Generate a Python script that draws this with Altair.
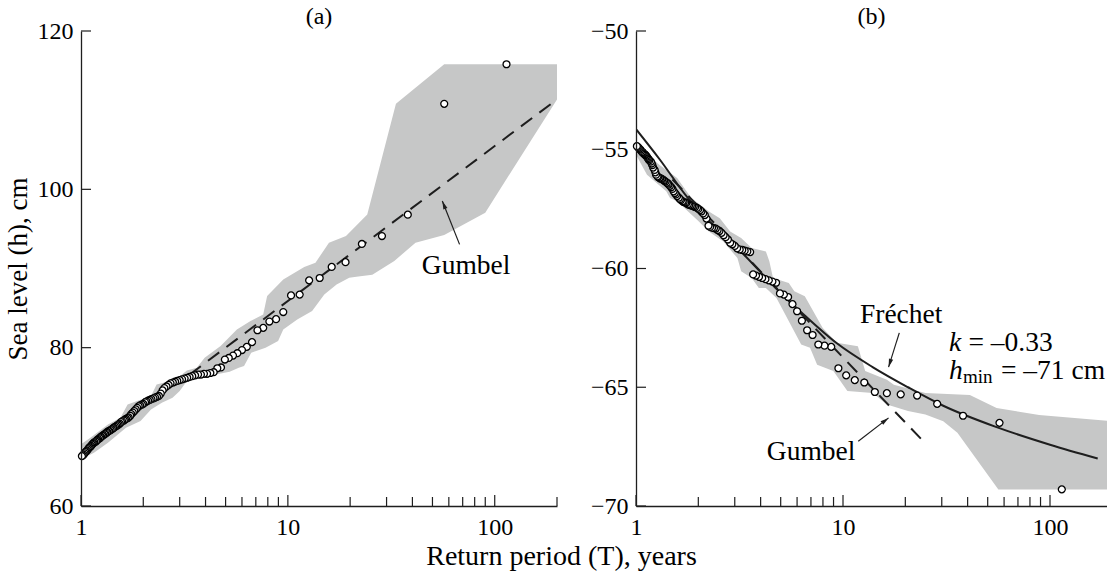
import altair as alt
import pandas as pd

FONT = "Liberation Serif"
INK = "#1e1e1e"
BAND = "#c6c7c7"
H = 475
W_A = 476
W_B = 471
XMAX_A = 200
XMAX_B = 188.5
ANN = 27.5

# ---- plotting positions (return period, years), same for both panels ----
T_PTS = [114, 57, 38, 28.5, 22.8, 19.0, 16.29, 14.25, 12.67, 11.4,
         10.36, 9.5, 8.77, 8.14, 7.6, 7.13, 6.71, 6.33, 6.0, 5.7,
         5.43, 5.18, 4.96, 4.75, 4.56, 4.38, 4.22, 4.07, 3.93, 3.8,
         3.68, 3.56, 3.45, 3.35, 3.26, 3.17, 3.08, 3.0, 2.92, 2.85,
         2.78, 2.71, 2.65, 2.59, 2.53, 2.48, 2.43, 2.38, 2.33, 2.28,
         2.24, 2.19, 2.15, 2.11, 2.07, 2.04, 2.0, 1.97, 1.93, 1.9,
         1.87, 1.84, 1.81, 1.78, 1.75, 1.73, 1.7, 1.68, 1.65, 1.63,
         1.61, 1.58, 1.56, 1.54, 1.52, 1.5, 1.48, 1.46, 1.44, 1.43,
         1.41, 1.39, 1.37, 1.36, 1.34, 1.33, 1.31, 1.3, 1.28, 1.27,
         1.25, 1.24, 1.23, 1.21, 1.2, 1.19, 1.18, 1.16, 1.15, 1.14,
         1.13, 1.12, 1.11, 1.1, 1.09, 1.08, 1.07, 1.06, 1.05, 1.04,
         1.03, 1.02, 1.01]

# ---- panel (a): annual maxima, cm ----
A_H = [115.8, 110.8, 96.8, 94.1, 93.1, 90.8, 90.2, 88.8, 88.5, 86.7,
       86.6, 84.5, 83.6, 83.3, 82.5, 82.2, 80.7, 80.1, 79.7, 79.3,
       79.0, 78.7, 78.5, 77.5, 77.4, 76.9, 76.8, 76.7, 76.7, 76.6,
       76.6, 76.5, 76.4, 76.3, 76.2, 76.1, 76.0, 75.9, 75.8, 75.7,
       75.6, 75.5, 75.3, 75.1, 74.9, 74.6, 74.2, 73.9, 73.8, 73.7,
       73.6, 73.5, 73.4, 73.3, 73.2, 73.1, 72.9, 72.8, 72.7, 72.6,
       72.4, 72.2, 72.0, 71.8, 71.6, 71.4, 71.2, 71.1, 71.0, 70.9,
       70.8, 70.7, 70.6, 70.4, 70.3, 70.2, 70.1, 70.0, 69.9, 69.8,
       69.7, 69.6, 69.5, 69.45, 69.35, 69.25, 69.15, 69.05, 68.95, 68.85,
       68.75, 68.65, 68.55, 68.45, 68.35, 68.25, 68.15, 68.05, 67.95, 67.85,
       67.75, 67.6, 67.5, 67.4, 67.3, 67.15, 67.0, 66.9, 66.8, 66.65,
       66.5, 66.4, 66.3]

A_UP_T = [1.0, 1.11, 1.35, 1.55, 1.68, 1.97, 2.18, 2.32, 2.71, 2.94,
          3.25, 3.63, 3.96, 4.73, 5.67, 6.6, 7.6, 7.94, 9.5, 12.0,
          13.6, 15.8, 19.1, 24.2, 33.3, 57, 200]
A_UP_H = [67.8, 68.63, 70.31, 71.15, 72.83, 73.47, 73.9, 75.36, 75.79, 76.21,
          77.13, 77.47, 78.73, 80.2, 82.3, 83.37, 84.2, 86.53, 88.6, 90.19,
          90.73, 93.26, 94.1, 96.83, 110.8, 115.8, 115.8]
A_LO_T = [1.0, 1.155, 1.35, 1.65, 1.94, 2.18, 2.46, 2.77, 3.0, 3.25,
          3.8, 4.47, 5.23, 5.79, 6.14, 6.65, 7.8, 8.97, 9.5, 11.1,
          13.1, 15.0, 17.2, 19.8, 21.9, 25.6, 32.7, 41.4, 57, 90, 200]
A_LO_H = [65.9, 66.73, 67.99, 69.89, 70.74, 72.2, 73.05, 73.68, 74.53, 75.79,
          76.21, 76.62, 76.97, 77.47, 77.68, 79.37, 80.0, 80.84, 82.3, 83.57,
          84.63, 86.73, 87.99, 88.84, 89.0, 89.2, 90.95, 93.26, 94.23, 97.05, 111.36]
A_GUM_T = [3.35, 200]
A_GUM_H = [76.6, 111.36]

# ---- panel (b): annual minima, cm ----
B_H = [-69.3, -66.5, -66.2, -65.7, -65.35, -65.3, -65.25, -65.2, -64.8, -64.7,
       -64.5, -64.2, -63.3, -63.25, -63.2, -62.8, -62.6, -62.2, -61.8, -61.5,
       -61.2, -61.1, -61.05, -60.6, -60.55, -60.5, -60.45, -60.4, -60.35, -60.3,
       -60.25, -59.31, -59.28, -59.25, -59.22, -59.2, -59.15, -59.05, -58.98, -58.92,
       -58.78, -58.68, -58.6, -58.5, -58.42, -58.38, -58.32, -58.3, -58.28, -58.25,
       -58.2, -57.9, -57.75, -57.68, -57.6, -57.54, -57.49, -57.45, -57.41, -57.38,
       -57.36, -57.34, -57.32, -57.3, -57.25, -57.22, -57.2, -57.17, -57.12, -57.08,
       -57.02, -56.95, -56.88, -56.82, -56.75, -56.65, -56.58, -56.52, -56.47, -56.43,
       -56.39, -56.34, -56.31, -56.28, -56.25, -56.23, -56.21, -56.18, -56.15, -56.12,
       -56.05, -55.95, -55.85, -55.75, -55.65, -55.58, -55.5, -55.45, -55.4, -55.35,
       -55.3, -55.26, -55.22, -55.19, -55.16, -55.13, -55.1, -55.05, -55.0, -54.96,
       -54.92, -54.88, -54.85]

B_UP_T = [1.0, 1.3, 1.58, 1.85, 2.25, 2.54, 2.85, 3.22, 3.62, 4.24,
          4.41, 4.59, 5.47, 5.82, 6.54, 7.98, 9.34, 11.8, 12.8, 16.3,
          17.6, 25, 41, 55.2, 88.6, 200]
B_UP_H = [-54.79, -55.64, -56.19, -57.03, -57.6, -57.88, -58.44, -58.72, -59.14, -59.28,
          -59.7, -60.4, -60.61, -60.96, -61.17, -62.5, -63.13, -63.27, -64.32, -64.68,
          -64.89, -65.24, -65.33, -65.87, -66.17, -66.43]
B_LO_T = [1.0, 1.13, 1.40, 1.46, 1.58, 2.0, 2.25, 2.64, 3.09, 3.22,
          3.62, 3.92, 4.24, 4.77, 5.16, 5.58, 6.28, 6.93, 7.5, 8.98,
          10.5, 13.9, 16.3, 20.6, 25, 30.5, 35.7, 56.3, 200]
B_LO_H = [-55.21, -56.05, -56.75, -57.03, -57.17, -58.0, -58.44, -58.86, -59.56, -60.12,
          -60.4, -60.82, -60.82, -61.24, -61.8, -62.36, -63.2, -63.34, -64.05, -64.32,
          -65.16, -65.24, -65.73, -66.0, -66.15, -66.43, -66.92, -69.31, -69.31]
B_FRE_T = [1.0, 1.3, 1.78, 2.34, 3.09, 4.96, 6.3, 9.34, 13.9, 20.6, 30.5, 55.2, 100, 170]
B_FRE_H = [-54.13, -55.4, -57.03, -58.15, -59.14, -61.0, -61.85, -63.15, -64.15, -65.0,
           -65.78, -66.68, -67.42, -68.0]
B_GUM_T = [1.5, 24.1]
B_GUM_H = [-56.25, -67.22]

# ---- axes ticks ----
X_MAJOR = [1, 10, 100]
X_MINOR = [2, 3, 4, 5, 6, 7, 8, 9, 20, 30, 40, 50, 60, 70, 80, 90, 200]
A_YTICKS = [60, 80, 100, 120]
B_YTICKS = [-70, -65, -60, -55, -50]

# ---- annotations ----
A_TXT = {"T": [72.7], "h": [90.35], "s": ["Gumbel"]}
A_ARR = {"T": [67.6], "h": [93.05], "T2": [55.8], "h2": [98.53], "ang": [338.5]}
B_TXT = {"T": [19.1, 7.01], "h": [-61.97, -67.72], "s": ["Fréchet", "Gumbel"]}
B_ARR = {"T": [18.7, 11.85], "h": [-62.71, -67.27], "T2": [16.6, 16.6],
         "h2": [-64.155, -66.29], "ang": [197.3, 52.3]}
B_PAR_T = [32.5]
B_K_H = [-63.12]
B_HMIN_H = [-64.3]

ARROW = "M0,0L-0.55,2.1L0.55,2.1Z"


def panel(pts_h, up, lo, dashed, solid, xmax, width, ydom, yticks, title, ytitle,
          txt, arr, extra=None):
    xs = alt.Scale(type="log", domain=[1, xmax], nice=False)
    ys = alt.Scale(domain=ydom, nice=False, zero=False)
    xa = alt.Axis(values=X_MAJOR, format="d", ticks=False, grid=False, title=None,
                  labelFont=FONT, labelFontSize=24, labelColor="black", labelPadding=9,
                  labelFlush=False, labelOverlap=False,
                  domainColor=INK, domainWidth=1.3, zindex=1)
    yk = dict(values=yticks, format="d", ticks=False, grid=False,
              labelFont=FONT, labelFontSize=24, labelColor="black", labelPadding=8,
              labelOverlap=False, domainColor=INK, domainWidth=1.3, zindex=1)
    if ytitle:
        ya = alt.Axis(title=ytitle, titleFont=FONT, titleFontSize=27,
                      titleFontWeight="normal", titleColor="black", titlePadding=5, **yk)
    else:
        ya = alt.Axis(title=None, **yk)

    def X(f="T"):
        return alt.X(f"{f}:Q", scale=xs, axis=xa)

    def Y(f="h"):
        return alt.Y(f"{f}:Q", scale=ys, axis=ya, stack=False)

    layers = []
    layers.append(alt.Chart(pd.DataFrame({"T": up[0], "h": up[1]})).mark_area(
        color=BAND, opacity=1, clip=True).encode(x=X(), y=Y(), y2=alt.value(H)))
    layers.append(alt.Chart(pd.DataFrame({"T": lo[0], "h": lo[1]})).mark_area(
        color="white", opacity=1, clip=True).encode(x=X(), y=Y(), y2=alt.value(H)))
    if dashed:
        layers.append(alt.Chart(pd.DataFrame({"T": dashed[0], "h": dashed[1]})).mark_line(
            color=INK, strokeWidth=2, strokeDash=[14, 9], clip=True).encode(x=X(), y=Y()))
    if solid:
        layers.append(alt.Chart(pd.DataFrame({"T": solid[0], "h": solid[1]})).mark_line(
            color=INK, strokeWidth=2, interpolate="monotone", clip=True).encode(x=X(), y=Y()))
    layers.append(alt.Chart(pd.DataFrame({"T": T_PTS, "h": pts_h})).mark_point(
        shape="circle", filled=True, fill="white", stroke="black", strokeWidth=1.3,
        size=48, opacity=1).encode(x=X(), y=Y()))
    # inward ticks
    maj = [v for v in X_MAJOR if v <= xmax]
    mnr = [v for v in X_MINOR if v <= xmax]
    layers.append(alt.Chart(pd.DataFrame({"T": maj})).mark_rule(
        color=INK, strokeWidth=1.2).encode(x=X(), y=alt.value(H - 11), y2=alt.value(H)))
    layers.append(alt.Chart(pd.DataFrame({"T": mnr})).mark_rule(
        color=INK, strokeWidth=1.2).encode(x=X(), y=alt.value(H - 9), y2=alt.value(H)))
    layers.append(alt.Chart(pd.DataFrame({"h": yticks})).mark_rule(
        color=INK, strokeWidth=1.2).encode(y=Y(), x=alt.value(0), x2=alt.value(10)))
    # arrows
    adf = pd.DataFrame(arr)
    layers.append(alt.Chart(adf).mark_rule(color=INK, strokeWidth=1.2).encode(
        x=X(), y=Y(), x2=alt.X2("T2:Q"), y2=alt.Y2("h2:Q")))
    layers.append(alt.Chart(adf).mark_point(shape=ARROW, filled=True, color=INK,
                                            size=64, opacity=1).encode(
        x=X("T2"), y=Y("h2"), angle=alt.Angle("ang:Q", scale=None)))
    layers.append(alt.Chart(pd.DataFrame(txt)).mark_text(
        font=FONT, fontSize=ANN, color="black", align="center", baseline="middle").encode(
        x=X(), y=Y(), text="s:N"))
    if extra:
        layers.extend(extra(X, Y))
    return alt.layer(*layers).properties(
        width=width, height=H,
        title=alt.TitleParams(title, font=FONT, fontSize=24, fontWeight="normal",
                              color="black", offset=-10, anchor="middle"))


def params(X, Y):
    out = []
    kdf = pd.DataFrame({"T": B_PAR_T, "h": B_K_H})
    hdf = pd.DataFrame({"T": B_PAR_T, "h": B_HMIN_H})
    base = dict(font=FONT, fontSize=ANN, color="black", align="left", baseline="middle")
    out.append(alt.Chart(kdf).mark_text(text="k", fontStyle="italic", **base).encode(x=X(), y=Y()))
    out.append(alt.Chart(kdf).mark_text(text="= \u20130.33", dx=19.5, **base).encode(x=X(), y=Y()))
    out.append(alt.Chart(hdf).mark_text(text="h", fontStyle="italic", **base).encode(x=X(), y=Y()))
    out.append(alt.Chart(hdf).mark_text(text="min", dx=14, dy=6, font=FONT, fontSize=19,
                                        color="black", align="left", baseline="middle").encode(x=X(), y=Y()))
    out.append(alt.Chart(hdf).mark_text(text="= \u201371 cm", dx=52, **base).encode(x=X(), y=Y()))
    return out


pa = panel(A_H, (A_UP_T, A_UP_H), (A_LO_T, A_LO_H), (A_GUM_T, A_GUM_H), None,
           XMAX_A, W_A, [60, 120], A_YTICKS, "(a)", "Sea level (h), cm", A_TXT, A_ARR)
pb = panel(B_H, (B_UP_T, B_UP_H), (B_LO_T, B_LO_H), (B_GUM_T, B_GUM_H), (B_FRE_T, B_FRE_H),
           XMAX_B, W_B, [-70, -50], B_YTICKS, "(b)", None, B_TXT, B_ARR, params)

chart = alt.hconcat(pa, pb, spacing=32).properties(
    padding={"left": 4, "top": 5, "right": 0, "bottom": 0},
    title=alt.TitleParams("Return period (T), years", orient="bottom", anchor="middle",
                          font=FONT, fontSize=28, fontWeight="normal", color="black",
                          offset=4, dx=6),
).configure_view(strokeWidth=0)

chart.save("out.html", embed_options={"renderer": "svg", "actions": False})
